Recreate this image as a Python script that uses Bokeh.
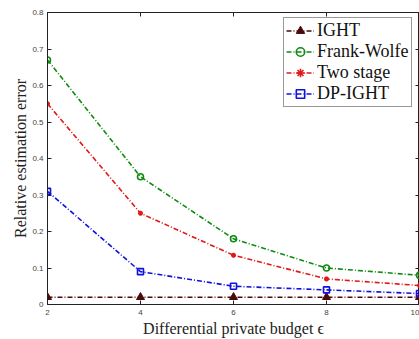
from bokeh.plotting import figure
from bokeh.embed import file_html
from bokeh.resources import INLINE
from bokeh.models import (FixedTicker, CustomJSTickFormatter, LinearAxis, Range1d,
                          Legend, LegendItem)

# Privacy budget values and relative estimation error for each method
epsilon = [2, 4, 6, 8, 10]
ight = [0.02, 0.02, 0.02, 0.02, 0.02]
frank_wolfe = [0.67, 0.35, 0.18, 0.10, 0.08]
two_stage = [0.55, 0.25, 0.135, 0.07, 0.052]
dp_ight = [0.31, 0.09, 0.05, 0.04, 0.03]

x_ticks = [2, 4, 6, 8, 10]
y_ticks = [0, 0.1, 0.2, 0.3, 0.4, 0.5, 0.6, 0.7, 0.8]

SERIF = "Liberation Serif"
SANS = "Liberation Sans"

p = figure(width=419, height=339, output_backend="svg", toolbar_location=None,
           x_range=Range1d(2, 10), y_range=Range1d(0, 0.8),
           min_border_left=47, min_border_top=12, min_border_bottom=33,
           min_border_right=0)
p.grid.visible = False
p.outline_line_color = "#222222"
p.outline_line_width = 1
p.background_fill_color = "white"
p.border_fill_color = "white"

fmt = CustomJSTickFormatter(code="return tick == 0 ? '0' : (Number.isInteger(tick) ? tick.toString() : tick.toFixed(1));")

for ax in (p.xaxis[0], p.yaxis[0]):
    ax.major_label_text_font = SANS
    ax.major_label_text_font_size = "8px"
    ax.major_label_text_color = "#444444"
    ax.major_tick_in = 4
    ax.major_tick_out = 0
    ax.minor_tick_line_color = None
    ax.axis_line_color = "#222222"
    ax.major_tick_line_color = "#222222"
    ax.axis_label_text_font = SERIF
    ax.axis_label_text_font_style = "normal"
    ax.axis_label_text_font_size = "16px"
    ax.axis_label_text_color = "#222222"
    ax.formatter = fmt

p.xaxis[0].ticker = FixedTicker(ticks=x_ticks)
p.yaxis[0].ticker = FixedTicker(ticks=y_ticks)
p.xaxis[0].axis_label = "Differential private budget ϵ"
p.yaxis[0].axis_label = "Relative estimation error"
p.xaxis[0].major_label_standoff = 5
p.xaxis[0].axis_label_standoff = 2
p.yaxis[0].major_label_standoff = 4
p.yaxis[0].axis_label_standoff = 0

# Mirror ticks on the top and right edges of the frame (no labels)
top = LinearAxis(ticker=FixedTicker(ticks=x_ticks), major_label_text_color=None,
                 major_label_text_font_size="4px", major_label_standoff=0,
                 major_tick_in=4, major_tick_out=0, minor_tick_line_color=None,
                 axis_line_color="#222222", major_tick_line_color="#222222")
right = LinearAxis(ticker=FixedTicker(ticks=y_ticks), major_label_text_color=None,
                   major_label_text_font_size="4px", major_label_standoff=0,
                   formatter=CustomJSTickFormatter(code="return '';"),
                   major_tick_in=4, major_tick_out=0, minor_tick_line_color=None,
                   axis_line_color="#222222", major_tick_line_color="#222222")
p.add_layout(top, "above")
p.add_layout(right, "right")

dash = "5 2 1 2"
items = []

c = "#4a0a0a"
l = p.line(epsilon, ight, line_color=c, line_width=1.6, line_dash=dash)
m = p.scatter(epsilon, ight, marker="triangle", size=8, fill_color=c, line_color=c)
items.append(LegendItem(label="IGHT", renderers=[l, m]))

c = "#108a10"
l = p.line(epsilon, frank_wolfe, line_color=c, line_width=1.6, line_dash=dash)
m = p.scatter(epsilon, frank_wolfe, marker="circle", size=6, fill_color=None,
              line_color=c, line_width=1.6)
items.append(LegendItem(label="Frank-Wolfe", renderers=[l, m]))

c = "#e01818"
l = p.line(epsilon, two_stage, line_color=c, line_width=1.6, line_dash=dash)
m = p.scatter(epsilon, two_stage, marker="asterisk", size=5, line_color=c, line_width=1.6)
items.append(LegendItem(label="Two stage", renderers=[l, m]))

c = "#1010e0"
l = p.line(epsilon, dp_ight, line_color=c, line_width=1.6, line_dash=dash)
m = p.scatter(epsilon, dp_ight, marker="square", size=6, fill_color=None,
              line_color=c, line_width=1.6)
items.append(LegendItem(label="DP-IGHT", renderers=[l, m]))

legend = Legend(items=items, location=(236, 197))
p.add_layout(legend, "center")
legend.label_text_font = SERIF
legend.label_text_font_style = "normal"
legend.label_text_font_size = "18px"
legend.label_text_color = "#111111"
legend.label_height = 21
legend.glyph_height = 21
legend.glyph_width = 28
legend.spacing = 0
legend.padding = 2
legend.margin = 0
legend.label_standoff = 3
legend.border_line_color = "#333333"
legend.border_line_width = 1
legend.background_fill_alpha = 1

open("out.html", "w").write(file_html(p, INLINE))
